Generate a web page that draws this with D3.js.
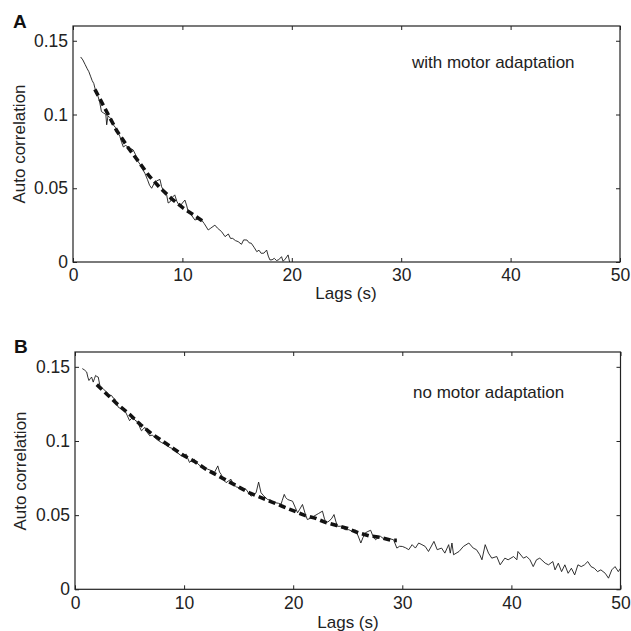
<!DOCTYPE html>
<html><head><meta charset="utf-8">
<script src="https://cdn.jsdelivr.net/npm/d3@7/dist/d3.min.js"></script>
<style>
body{margin:0;background:#fff;}
svg{display:block;font-family:"Liberation Sans",Arial,Helvetica,sans-serif;}
</style></head>
<body><svg id="c" width="631" height="631"></svg>
<script>
// ---- data ----
const xTicks = [0, 10, 20, 30, 40, 50];
const yTicks = [0, 0.05, 0.1, 0.15];
const panelLetters = ["A", "B"];
const panelNotes = ["with motor adaptation", "no motor adaptation"];
const xLabel = "Lags (s)";
const yLabel = "Auto correlation";

// Panel A: measured autocorrelation (lag s, value)
const lagsA = [0.7,0.9,1.1,1.3,1.45,1.6,1.75,1.9,2.0,2.15,2.3,2.45,2.6,2.8,3.0,3.08,3.2,3.35,3.5,3.68,3.9,4.1,4.29,4.45,4.6,4.8,5.05,5.25,5.5,5.7,5.96,6.15,6.35,6.58,6.8,7.0,7.19,7.4,7.64,7.95,8.1,8.3,8.56,8.7,8.9,9.1,9.3,9.5,9.77,10.0,10.23,10.4,10.53,10.8,11.14,11.4,11.75,12.0,12.36,12.6,12.97,13.2,13.58,13.9,14.2,14.4,14.6,14.85,15.1,15.4,15.6,15.9,16.1,16.3,16.55,16.8,17.0,17.2,17.45,17.7,17.85,18.0,18.2,18.4,18.6,18.8,19.06,19.2,19.4,19.66,19.8];
const acA = [0.139,0.137,0.134,0.131,0.129,0.126,0.123,0.121,0.118,0.114,0.112,0.108,0.102,0.101,0.100,0.093,0.099,0.098,0.097,0.093,0.091,0.088,0.085,0.081,0.078,0.079,0.078,0.077,0.076,0.073,0.068,0.066,0.063,0.060,0.056,0.052,0.050,0.053,0.055,0.056,0.051,0.048,0.0455,0.040,0.041,0.044,0.0455,0.041,0.0376,0.040,0.042,0.038,0.034,0.032,0.0285,0.029,0.0285,0.026,0.0217,0.023,0.025,0.023,0.0206,0.0172,0.019,0.016,0.016,0.0145,0.0138,0.012,0.015,0.0149,0.013,0.0127,0.010,0.007,0.008,0.0059,0.006,0.0081,0.004,0.0014,0.0015,0.0025,0.001,0.0015,0.0036,0.0005,0.002,0.0048,0.0];
// Panel A: fitted curve (dashed)
const fitLagsA = [2,3,4,5,6,7,8,9,10,11,11.8];
const fitA = [0.117,0.103,0.089,0.078,0.068,0.058,0.050,0.043,0.037,0.032,0.028];

// Panel B: measured autocorrelation
const lagsB = [0.67,0.85,1.07,1.18,1.28,1.4,1.52,1.67,1.78,1.89,2.0,2.13,2.28,2.45,2.6,2.75,2.89,3.1,3.35,3.5,3.65,3.8,3.96,4.15,4.35,4.57,4.8,5.0,5.15,5.3,5.5,5.78,5.95,6.09,6.25,6.4,6.6,6.85,7.1,7.35,7.6,7.92,8.2,8.45,8.65,8.9,9.1,9.4,9.74,9.95,10.2,10.35,10.5,10.7,10.93,11.2,11.5,11.8,12.17,12.5,12.8,13.09,13.25,13.4,13.6,13.85,14.05,14.3,14.5,14.8,15.07,15.35,15.68,15.9,16.14,16.4,16.6,16.83,17.05,17.3,17.65,17.9,18.15,18.42,18.65,18.88,19.0,19.18,19.3,19.48,19.7,19.94,20.2,20.4,20.6,20.85,21.1,21.3,21.6,21.9,22.3,22.68,22.85,23.0,23.3,23.55,23.74,23.9,24.05,24.35,24.6,24.8,25.1,25.4,25.7,25.95,26.2,26.4,26.6,26.85,27.1,27.3,27.55,27.8,28.0,28.3,28.6,28.9,29.2,29.5,29.75,30.0,30.3,30.59,30.9,31.2,31.5,31.8,32.1,32.4,32.9,33.2,33.6,33.9,34.25,34.4,34.55,34.7,35.2,35.6,36.1,36.5,36.8,37.1,37.3,37.6,37.9,38.2,38.66,38.97,39.4,39.7,40.2,40.5,40.6,41.1,41.4,41.7,42.0,42.3,42.6,43.1,43.4,43.8,44.0,44.3,44.6,44.9,45.2,45.5,45.8,46.1,46.4,46.7,47.0,47.3,47.6,47.9,48.2,48.6,48.9,49.2,49.5,49.8,50.0];
const acB = [0.1488,0.148,0.1465,0.143,0.1408,0.142,0.1431,0.1397,0.142,0.1442,0.1435,0.1431,0.1374,0.136,0.135,0.134,0.133,0.131,0.1307,0.129,0.1284,0.126,0.1228,0.122,0.1215,0.1205,0.117,0.1137,0.115,0.116,0.114,0.1126,0.109,0.1069,0.108,0.1092,0.106,0.1035,0.104,0.102,0.1005,0.099,0.098,0.097,0.0957,0.095,0.094,0.092,0.090,0.0905,0.0911,0.088,0.0855,0.087,0.0877,0.085,0.083,0.082,0.081,0.080,0.079,0.0832,0.079,0.0775,0.074,0.0719,0.073,0.0742,0.071,0.069,0.0685,0.068,0.0674,0.065,0.0628,0.064,0.0651,0.0723,0.0651,0.063,0.0606,0.060,0.059,0.0583,0.058,0.0572,0.060,0.064,0.062,0.0606,0.060,0.0594,0.055,0.0516,0.054,0.0572,0.051,0.047,0.048,0.0493,0.051,0.0527,0.048,0.0448,0.046,0.048,0.0504,0.046,0.0425,0.0425,0.041,0.0402,0.0402,0.039,0.040,0.036,0.0312,0.035,0.038,0.039,0.0398,0.036,0.0334,0.035,0.0357,0.034,0.0334,0.034,0.0334,0.0278,0.029,0.0289,0.028,0.0267,0.0301,0.0278,0.0312,0.0301,0.0289,0.0255,0.0323,0.0267,0.0278,0.0244,0.0301,0.0244,0.0312,0.0233,0.0255,0.0289,0.0312,0.0278,0.0267,0.0233,0.0199,0.0301,0.0244,0.021,0.0221,0.0165,0.021,0.0199,0.0221,0.0199,0.0255,0.021,0.0221,0.0199,0.0153,0.0199,0.021,0.0176,0.0165,0.0187,0.0131,0.0176,0.0119,0.0165,0.0108,0.0142,0.0097,0.0165,0.0153,0.0165,0.0187,0.0153,0.0142,0.0119,0.0131,0.0108,0.0075,0.0131,0.0153,0.0119,0.0142];
// Panel B: fitted curve (dashed)
const fitLagsB = [2,3,4,5,6,7,8,9,10,11,12,13,14,15,16,17,18,19,20,21,22,23,24,25,26,27,28,29,29.5];
const fitB = [0.138,0.131,0.124,0.118,0.111,0.105,0.100,0.095,0.090,0.086,0.081,0.077,0.073,0.069,0.065,0.062,0.059,0.056,0.053,0.050,0.048,0.045,0.043,0.041,0.038,0.036,0.035,0.033,0.033];

// ---- layout ----
const panels = [
  {left:73, top:26, w:547, h:236, lags:lagsA, ac:acA, fl:fitLagsA, fv:fitA,
   letter:[13,28], note:[412,68], xlab:[346,299], ylab:[25,144]},
  {left:75, top:352, w:545.5, h:237.3, lags:lagsB, ac:acB, fl:fitLagsB, fv:fitB,
   letter:[14,353], note:[413,398], xlab:[348,628], ylab:[26,471]}
];
const ink = "#222";
const svg = d3.select("#c");

panels.forEach((p, i) => {
  const x = d3.scaleLinear().domain([0, 50]).range([0, p.w]);
  const y = d3.scaleLinear().domain([0, 0.16]).range([p.h, 0]);
  const g = svg.append("g").attr("transform", `translate(${p.left},${p.top})`);

  const fmt = d => d === 0 ? "0" : String(+d.toFixed(2));
  const styleAxis = sel => {
    sel.select(".domain").remove();
    sel.selectAll("line").attr("stroke", ink);
    sel.selectAll("text").attr("fill", ink).style("font-size", "17.5px")
      .style("font-family", '"Liberation Sans",Arial,sans-serif');
  };
  g.append("g").attr("transform", `translate(0,${p.h})`)
    .call(d3.axisBottom(x).tickValues(xTicks).tickFormat(fmt).tickSize(-4).tickPadding(7))
    .call(styleAxis);
  g.append("g")
    .call(d3.axisTop(x).tickValues(xTicks).tickFormat("").tickSize(-4))
    .call(styleAxis);
  g.append("g")
    .call(d3.axisLeft(y).tickValues(yTicks).tickFormat(fmt).tickSize(-4).tickPadding(5))
    .call(styleAxis);
  g.append("g").attr("transform", `translate(${p.w},0)`)
    .call(d3.axisRight(y).tickValues(yTicks).tickFormat("").tickSize(-4))
    .call(styleAxis);

  g.append("rect").attr("width", p.w).attr("height", p.h)
    .attr("fill", "none").attr("stroke", ink).attr("stroke-width", 1.2);

  const line = d3.line().x(d => x(d[0])).y(d => y(d[1]));
  const raw = p.lags.map((l, k) => [l, p.ac[k]]);
  const fit = p.fl.map((l, k) => [l, p.fv[k]]);

  g.append("path").datum(fit).attr("d", line)
    .attr("fill", "none").attr("stroke", "#111").attr("stroke-width", 3.6)
    .attr("stroke-dasharray", "7,4");
  g.append("path").datum(raw).attr("d", line)
    .attr("fill", "none").attr("stroke", "#1a1a1a").attr("stroke-width", 0.9)
    .attr("stroke-linejoin", "round");

  svg.append("text").attr("x", p.letter[0]).attr("y", p.letter[1])
    .text(panelLetters[i]).attr("font-weight", "bold").attr("font-size", 19).attr("fill", "#111");
  svg.append("text").attr("x", p.note[0]).attr("y", p.note[1])
    .text(panelNotes[i]).attr("font-size", 17).attr("fill", ink);
  svg.append("text").attr("x", p.xlab[0]).attr("y", p.xlab[1])
    .attr("text-anchor", "middle").text(xLabel).attr("font-size", 17).attr("fill", ink);
  svg.append("text").attr("transform", `translate(${p.ylab[0]},${p.ylab[1]}) rotate(-90)`)
    .attr("text-anchor", "middle").text(yLabel).attr("font-size", 17).attr("fill", ink);
});
</script>
</body></html>
